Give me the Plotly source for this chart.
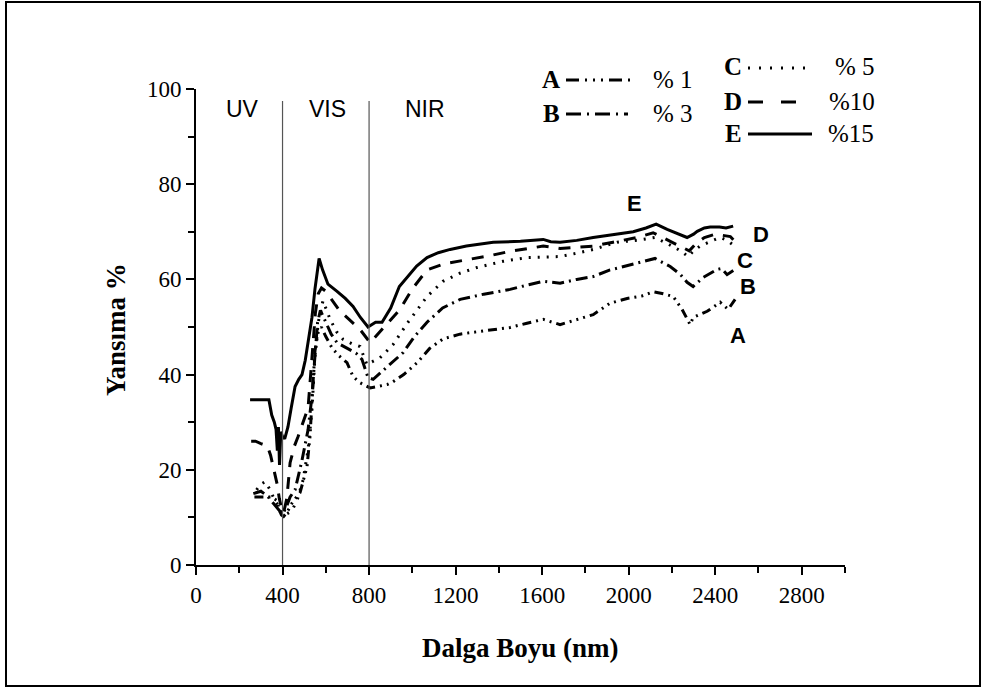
import plotly.graph_objects as go

# ---------------- data ----------------
A_x = [270, 310, 350, 375, 385, 395, 405, 420, 444, 460, 481, 513, 527, 541, 550, 565, 580, 600, 630, 660, 698, 726, 758, 805, 840, 883, 911, 960, 1022, 1080, 1142, 1220, 1299, 1380, 1452, 1530, 1605, 1683, 1760, 1836, 1914, 1993, 2060, 2113, 2160, 2206, 2247, 2284, 2298, 2330, 2363, 2423, 2460, 2492]
A_y = [14.3, 14.3, 14.3, 13.5, 11.5, 10.5, 10.2, 11, 13, 14, 15.2, 20.6, 27, 38.3, 45, 49, 50, 48, 45.5, 44, 42.5, 39.6, 38.3, 37.2, 37.5, 37.9, 38.5, 40, 42.5, 45.5, 47.5, 48.5, 49, 49.5, 49.9, 50.8, 51.6, 50.5, 51.5, 52.6, 55, 56, 56.5, 57.4, 57, 56.4, 53.7, 50.5, 52, 52.6, 53.3, 55.2, 53.7, 55.8]

B_x = [265, 300, 330, 355, 375, 390, 405, 420, 435, 458, 490, 518, 536, 550, 562, 575, 600, 625, 652, 680, 712, 740, 767, 795, 819, 880, 957, 1010, 1068, 1140, 1221, 1330, 1452, 1530, 1605, 1683, 1760, 1836, 1914, 1960, 2050, 2122, 2192, 2240, 2270, 2298, 2344, 2409, 2430, 2455, 2492]
B_y = [15, 15.5, 14.5, 13, 12, 11.2, 11, 12.5, 14.3, 15.8, 22, 28.4, 35.4, 44, 51, 53.5, 51, 48.5, 46.7, 46, 45.3, 44.5, 43.2, 39.4, 39, 41.5, 44.6, 48, 51, 54, 55.8, 56.9, 57.9, 58.8, 59.6, 59.2, 60, 60.6, 62, 62.5, 63.5, 64.4, 62.7, 61, 59.4, 58.5, 60.4, 62.1, 62.3, 61, 62.1]

C_x = [280, 300, 320, 340, 360, 380, 395, 410, 430, 450, 470, 495, 518, 536, 550, 565, 587, 620, 650, 680, 720, 758, 790, 805, 850, 911, 980, 1068, 1142, 1220, 1299, 1420, 1531, 1683, 1760, 1836, 1947, 2050, 2120, 2180, 2240, 2275, 2300, 2330, 2380, 2423, 2455, 2478]
C_y = [15.8, 17, 17.5, 16, 14, 12.5, 11, 10.5, 11, 12, 14, 17.9, 24.2, 32.6, 43.8, 51, 55.5, 51.6, 49, 47.4, 46.5, 45.9, 42.1, 42.5, 43.5, 46.3, 51, 56.4, 59.6, 61.3, 62.5, 63.8, 64.6, 64.8, 65.5, 66.3, 67.8, 68.3, 68.8, 67.5, 66, 64.8, 66, 67, 68, 68.8, 68.2, 67.4]

D_x = [255, 275, 300, 330, 345, 360, 375, 385, 395, 405, 420, 435, 455, 472, 495, 518, 530, 541, 552, 565, 580, 600, 630, 666, 710, 758, 805, 850, 900, 943, 1000, 1068, 1150, 1267, 1360, 1452, 1530, 1605, 1683, 1760, 1836, 1928, 2039, 2113, 2170, 2238, 2280, 2310, 2350, 2400, 2440, 2470, 2490]
D_y = [26, 26, 25.5, 25, 23, 20, 17, 14, 12, 11, 14, 21.5, 25, 27, 30, 33, 40, 47, 53, 57, 58.2, 57.5, 55.5, 53.3, 51.5, 49.5, 46.7, 49, 51.5, 53.7, 58, 62, 63.3, 64.2, 65, 65.9, 66.5, 67, 66.5, 66.7, 67, 67.8, 68.8, 69.8, 68.5, 67, 66, 67.5, 68.8, 69.5, 69.3, 69, 68]

E_x = [250, 290, 337, 350, 362, 370, 376, 381, 386, 392, 400, 410, 425, 440, 458, 475, 490, 505, 520, 536, 550, 560, 569, 585, 610, 652, 690, 726, 760, 795, 830, 860, 900, 940, 975, 1020, 1068, 1120, 1175, 1250, 1374, 1500, 1605, 1640, 1683, 1760, 1836, 1947, 2021, 2080, 2127, 2178, 2230, 2270, 2300, 2317, 2350, 2377, 2420, 2450, 2483]
E_y = [34.7, 34.7, 34.7, 31.5, 30, 28.5, 24, 29, 21, 28, 27, 26.5, 29, 33, 37.5, 39, 40, 43, 47, 52, 58, 62, 64.4, 62, 59, 57.5, 56, 54.3, 52, 50, 51, 51, 54, 58.5, 60.4, 62.8, 64.6, 65.6, 66.3, 67, 67.8, 68, 68.4, 67.9, 67.8, 68.2, 68.8, 69.5, 70, 70.8, 71.6, 70.5, 69.5, 68.8, 69.5, 70.1, 70.8, 71, 71, 70.8, 71.2]

series_names = ["A", "B", "C", "D", "E"]
series_pct = ["% 1", "% 3", "% 5", "%10", "%15"]
series_x = [A_x, B_x, C_x, D_x, E_x]
series_y = [A_y, B_y, C_y, D_y, E_y]

region_labels = ["UV", "VIS", "NIR"]
region_label_x = [213, 606, 1059]
region_bounds = [400, 800]

x_ticks = [0, 400, 800, 1200, 1600, 2000, 2400, 2800]
y_ticks = [0, 20, 40, 60, 80, 100]

# curve end labels (data coords)
end_label_x = [2506, 2553, 2539, 2613, 2025]
end_label_y = [48.2, 58.5, 64.0, 69.5, 76.0]

# ---------------- styles ----------------
dashes = ["9px,5px,2px,5px,2px,5px,2px,5px", "12px,5px,2px,5px", "2px,7px", "12px,10px", "solid"]
SERIF = "Liberation Serif, Times New Roman, serif"
SANS = "Liberation Sans, Arial, sans-serif"

fig = go.Figure()
for name, xs, ys, d in zip(series_names, series_x, series_y, dashes):
    fig.add_trace(go.Scatter(x=xs, y=ys, mode="lines", name=name,
                             line=dict(color="black", width=3, dash=d),
                             showlegend=False))

# plot area in pixels: x 196..845, y 89..565
L, R, T, B = 196, 845, 89, 565
W, H = R - L, B - T
def px(xp):
    return (xp - L) / W
def py(yp):
    return (B - yp) / H

shapes = []
for xb in region_bounds:
    shapes.append(dict(type="line", xref="x", yref="y", x0=xb, x1=xb, y0=0, y1=97.5,
                       line=dict(color="#555555", width=1.2)))
# outer frame
shapes.append(dict(type="rect", xref="paper", yref="paper",
                   x0=px(6), x1=px(980), y0=py(686), y1=py(2),
                   line=dict(color="black", width=2)))

annotations = []
for lab, lx in zip(region_labels, region_label_x):
    annotations.append(dict(x=lx, y=95.8, xref="x", yref="y", text=lab, showarrow=False,
                            xanchor="center", yanchor="middle",
                            font=dict(family=SANS, size=23, color="black")))
for lab, lx, ly in zip(series_names, end_label_x, end_label_y):
    annotations.append(dict(x=lx, y=ly, xref="x", yref="y", text="<b>%s</b>" % lab, showarrow=False,
                            xanchor="center", yanchor="middle",
                            font=dict(family=SANS, size=22, color="black")))

# custom legend (two columns)
leg_rows = [  # letter x, sample x0, x1, text x, y
    (551, 566, 630, 673, 79),
    (551, 566, 628, 673, 113),
    (733, 748, 813, 855, 67),
    (733, 748, 800, 852, 101),
    (733, 748, 812, 851, 133),
]
leg_dashes = ["13px,6px,2px,6px,2px,6px,2px,6px", "15px,6px,2px,6px", "2px,9px", "15px,18px", "solid"]
for (lx, s0, s1, tx, ly), name, pct, d in zip(leg_rows, series_names, series_pct, leg_dashes):
    annotations.append(dict(x=px(lx), y=py(ly), xref="paper", yref="paper", text="<b>%s</b>" % name,
                            showarrow=False, xanchor="center", yanchor="middle",
                            font=dict(family=SERIF, size=25, color="black")))
    annotations.append(dict(x=px(tx), y=py(ly), xref="paper", yref="paper", text=pct,
                            showarrow=False, xanchor="center", yanchor="middle",
                            font=dict(family=SERIF, size=25, color="black")))
    shapes.append(dict(type="line", xref="paper", yref="paper", x0=px(s0), x1=px(s1),
                       y0=py(ly + 1), y1=py(ly + 1), line=dict(color="black", width=3, dash=d)))

# axis titles
annotations.append(dict(x=px(520), y=py(648), xref="paper", yref="paper", text="<b>Dalga Boyu (nm)</b>",
                        showarrow=False, xanchor="center", yanchor="middle",
                        font=dict(family=SERIF, size=27, color="black")))
annotations.append(dict(x=px(116), y=py(330), xref="paper", yref="paper", text="<b>Yansıma %</b>",
                        showarrow=False, textangle=-90, xanchor="center", yanchor="middle",
                        font=dict(family=SERIF, size=27, color="black")))

fig.update_layout(
    width=986, height=690,
    margin=dict(l=L, r=986 - R, t=T, b=690 - B),
    paper_bgcolor="white", plot_bgcolor="white",
    shapes=shapes, annotations=annotations,
    showlegend=False,
    xaxis=dict(range=[0, 3000], tickvals=x_ticks, ticktext=[str(v) for v in x_ticks],
               ticks="outside", ticklen=8, tickwidth=1.5, tickcolor="black",
               minor=dict(dtick=200, tick0=0, ticks="outside", ticklen=6, tickwidth=1.5, tickcolor="black", showgrid=False),
               showline=True, linecolor="black", linewidth=2, showgrid=False, zeroline=False,
               tickfont=dict(family=SERIF, size=23, color="black")),
    yaxis=dict(range=[0, 100], tickvals=y_ticks, ticktext=[str(v) for v in y_ticks],
               ticks="outside", ticklen=8, tickwidth=1.5, tickcolor="black",
               minor=dict(dtick=10, tick0=0, ticks="outside", ticklen=6, tickwidth=1.5, tickcolor="black", showgrid=False),
               showline=True, linecolor="black", linewidth=2, showgrid=False, zeroline=False,
               tickfont=dict(family=SERIF, size=23, color="black")),
)

fig.write_html("out.html", config={"displayModeBar": False},
               post_script="document.body.style.margin='0';document.body.style.overflow='hidden';")
